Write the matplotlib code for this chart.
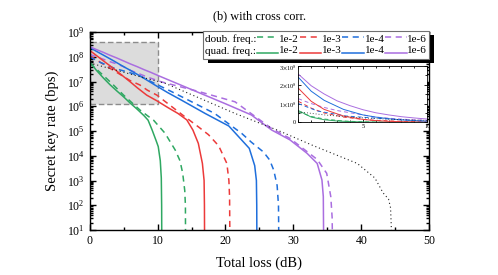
import numpy as np
import matplotlib
matplotlib.use('Agg')
import matplotlib.pyplot as plt
from matplotlib.lines import Line2D
from matplotlib.patches import Rectangle
from matplotlib.offsetbox import TextArea, DrawingArea, HPacker, VPacker, AnchoredOffsetbox
from matplotlib.transforms import IdentityTransform

plt.rcParams['font.family'] = ['Liberation Serif', 'DejaVu Serif']
plt.rcParams['mathtext.fontset'] = 'stix'

# curves: loss in dB, rate as log10(bps)
green_q_loss = [0, 1, 2, 3, 4, 5, 6, 7, 8, 8.6, 9.2, 9.8, 10.1, 10.4, 10.55, 10.6, 10.62]
green_q_lr = [7.8, 7.45, 7.15, 6.87, 6.62, 6.38, 6.12, 5.88, 5.62, 5.44, 5.04, 4.6, 4.37, 3.8, 3.1, 2.0, 0.5]
green_d_loss = [0, 1, 2, 3.5, 5, 6, 7.4, 8.5, 9.4, 11.1, 12.6, 13.3, 13.7, 14.0, 14.1, 14.12]
green_d_lr = [7.75, 7.5, 7.25, 6.86, 6.45, 6.2, 5.85, 5.62, 5.44, 4.91, 4.23, 3.8, 3.29, 2.6, 2.0, 0.5]

red_q_loss = [0, 1, 2, 3.5, 5, 6, 7, 8.4, 9.9, 11.5, 13.0, 14.3, 15.2, 16.0, 16.6, 16.85, 16.9, 16.92]
red_q_lr = [8.26, 8.05, 7.84, 7.53, 7.2, 6.98, 6.75, 6.45, 6.22, 5.95, 5.71, 5.45, 5.04, 4.5, 3.69, 3.0, 2.0, 0.5]
red_d_loss = [0, 1, 2, 3.5, 5, 6, 7.4, 8.5, 9.9, 14.0, 16.0, 17.5, 19.0, 20.2, 20.5, 20.6, 20.65]
red_d_lr = [8.05, 7.88, 7.7, 7.45, 7.2, 7.03, 6.86, 6.65, 6.45, 5.58, 5.17, 4.85, 4.4, 3.69, 3.0, 2.35, 0.5]

blue_q_loss = [0, 1, 2, 3.5, 5, 6, 7, 8, 9.6, 11.5, 13.5, 17.0, 20.5, 22.0, 23.5, 24.3, 24.55, 24.6, 24.62]
blue_q_lr = [8.38, 8.22, 8.07, 7.84, 7.6, 7.45, 7.29, 7.13, 6.86, 6.55, 6.25, 5.71, 5.2, 4.75, 4.3, 3.6, 3.0, 2.0, 0.5]
blue_d_loss = [0, 1.5, 3.7, 6.0, 7.6, 9, 12, 18.4, 22.4, 23.8, 25.6, 26.5, 27.1, 27.6, 27.8, 27.85]
blue_d_lr = [8.0, 7.78, 7.53, 7.35, 7.2, 7.0, 6.6, 5.71, 4.9, 4.55, 4.15, 3.83, 3.42, 2.8, 2.0, 0.5]

purple_q_loss = [0, 1, 2, 3, 4, 5, 6, 7, 8, 9, 10, 20, 23.8, 26.8, 29.5, 32, 33.5, 34.2, 34.4, 34.45]
purple_q_lr = [8.41, 8.29, 8.18, 8.06, 7.95, 7.83, 7.71, 7.6, 7.48, 7.37, 7.25, 6.1, 5.65, 5.04, 4.64, 4.1, 3.69, 3.02, 2.35, 0.5]
purple_d_loss = [0, 1, 2, 3, 4, 5, 6, 7.4, 8.5, 10.5, 16, 21.4, 26.8, 29.5, 33.5, 34.9, 35.5, 35.7, 35.75]
purple_d_lr = [8.1, 8.0, 7.9, 7.8, 7.71, 7.6, 7.45, 7.30, 7.18, 6.99, 6.6, 6.18, 5.1, 4.7, 3.85, 3.29, 2.35, 1.5, 0.5]

bound_loss = [0, 2, 4, 6, 8, 11.1, 21.4, 27.6, 33, 39.4, 42, 43.2, 44.0, 44.3, 44.4, 44.45]
bound_lr = [7.75, 7.6, 7.45, 7.3, 7.15, 6.93, 5.71, 5.04, 4.4, 3.69, 3.1, 2.5, 2.25, 1.9, 1.2, 0.5]

labels = ['1e-2', '1e-3', '1e-4', '1e-6']
colors = ['#2fa862', '#ec3a3a', '#1f6fdc', '#aa6ee0']
quad = [(green_q_loss, green_q_lr), (red_q_loss, red_q_lr),
        (blue_q_loss, blue_q_lr), (purple_q_loss, purple_q_lr)]
doub = [(green_d_loss, green_d_lr), (red_d_loss, red_d_lr),
        (blue_d_loss, blue_d_lr), (purple_d_loss, purple_d_lr)]
dash = (0, (4, 3))

fig = plt.figure(figsize=(4.98, 2.75), dpi=100)
ax = fig.add_axes([0.180, 0.1636, 0.682, 0.72])


def draw(a, lw, dlw):
    for (x, lr), c in zip(doub, colors):
        a.plot(x, 10 ** np.array(lr), color=c, lw=lw, ls=dash)
    for (x, lr), c in zip(quad, colors):
        a.plot(x, 10 ** np.array(lr), color=c, lw=lw)
    a.plot(bound_loss, 10 ** np.array(bound_lr), color='#222222', lw=dlw, ls=(0, (1, 2.5)))


draw(ax, 1.1, 0.8)
ax.set_yscale('log')
ax.set_xlim(0, 50)
ax.set_ylim(1e1, 1e9)
ax.set_xticks([0, 10, 20, 30, 40, 50])
ax.set_xticks([5, 15, 25, 35, 45], minor=True)
ax.yaxis.set_major_locator(matplotlib.ticker.LogLocator(base=10, numticks=20))
ax.yaxis.set_minor_locator(matplotlib.ticker.LogLocator(base=10, subs=np.arange(2, 10), numticks=20))
ax.yaxis.set_minor_formatter(matplotlib.ticker.NullFormatter())
ax.tick_params(which='both', direction='in', top=True, right=True, labelsize=8.5, width=1.0)
ax.tick_params(which='major', length=4)
ax.tick_params(which='minor', length=2.2)
for s in ax.spines.values():
    s.set_linewidth(1.0)
ax.set_xlabel('Total loss (dB)', fontsize=10.5, labelpad=7)
ax.set_ylabel('Secret key rate (bps)', fontsize=10.5, labelpad=6)
ax.set_title('(b) with cross corr.', fontsize=8.8, pad=9)

# zoomed region
ax.add_patch(Rectangle((0, 1.2e6), 10, 4e8 - 1.2e6, facecolor='#dcdcdc', edgecolor='#8c8c8c',
                       ls=(0, (4, 2)), lw=1.0, zorder=0.5))

# inset with linear scale
axin = fig.add_axes([0.599, 0.555, 0.259, 0.205])
draw(axin, 0.7, 0.6)
axin.set_xlim(0, 10)
axin.set_ylim(0, 3e8)
axin.set_xticks([0, 5, 10])
axin.set_xticklabels(['', '5', '10'])
axin.set_yticks([0, 1e8, 2e8, 3e8])
axin.set_yticklabels(['0', r'1$\times$10$^8$', r'2$\times$10$^8$', r'3$\times$10$^8$'])
axin.set_xticks(np.arange(1, 10), minor=True)
axin.set_yticks(np.arange(0.5e8, 3e8, 1e8), minor=True)
axin.tick_params(which='both', direction='in', top=True, right=True, labelsize=4.5, pad=1.5, width=0.6)
axin.tick_params(which='major', length=2.5)
axin.tick_params(which='minor', length=1.5)
for s in axin.spines.values():
    s.set_linewidth(0.6)

# legend rows built from boxes so handles sit between labels
fs = 8.0


def handle(c, ls):
    da = DrawingArea(15.5, 6, 0, 0)
    da.add_artist(Line2D([0, 15.5], [3, 3], color=c, lw=1.1, ls=ls))
    return da


cols = [VPacker(children=[TextArea('doub. freq.:', textprops=dict(size=fs)),
                          TextArea('quad. freq.:', textprops=dict(size=fs))],
                align='left', pad=0, sep=1.5)]
for c, lab in zip(colors, labels):
    cols.append(VPacker(children=[handle(c, dash), handle(c, '-')], align='center', pad=0, sep=5.5))
    cols.append(VPacker(children=[TextArea(lab, textprops=dict(size=fs)),
                                  TextArea(lab, textprops=dict(size=fs))],
                        align='left', pad=0, sep=1.5))
box = HPacker(children=cols, align='center', pad=0, sep=0.5)
leg = AnchoredOffsetbox(loc='upper right', child=box, pad=0.15, borderpad=0,
                        frameon=True, bbox_to_anchor=(1.0, 1.005), bbox_transform=ax.transAxes)
leg.patch.set_boxstyle('square', pad=0)
leg.patch.set_edgecolor('#707070')
leg.patch.set_linewidth(0.8)
leg.set_zorder(6)
ax.add_artist(leg)

fig.canvas.draw()
bb = leg.get_window_extent(fig.canvas.get_renderer())
ax.add_patch(Rectangle((bb.x0 + 5, bb.y0 - 4), bb.width, bb.height, transform=IdentityTransform(),
                       facecolor='black', edgecolor='none', zorder=5.5, clip_on=False))

fig.savefig('out.png', dpi=100)
